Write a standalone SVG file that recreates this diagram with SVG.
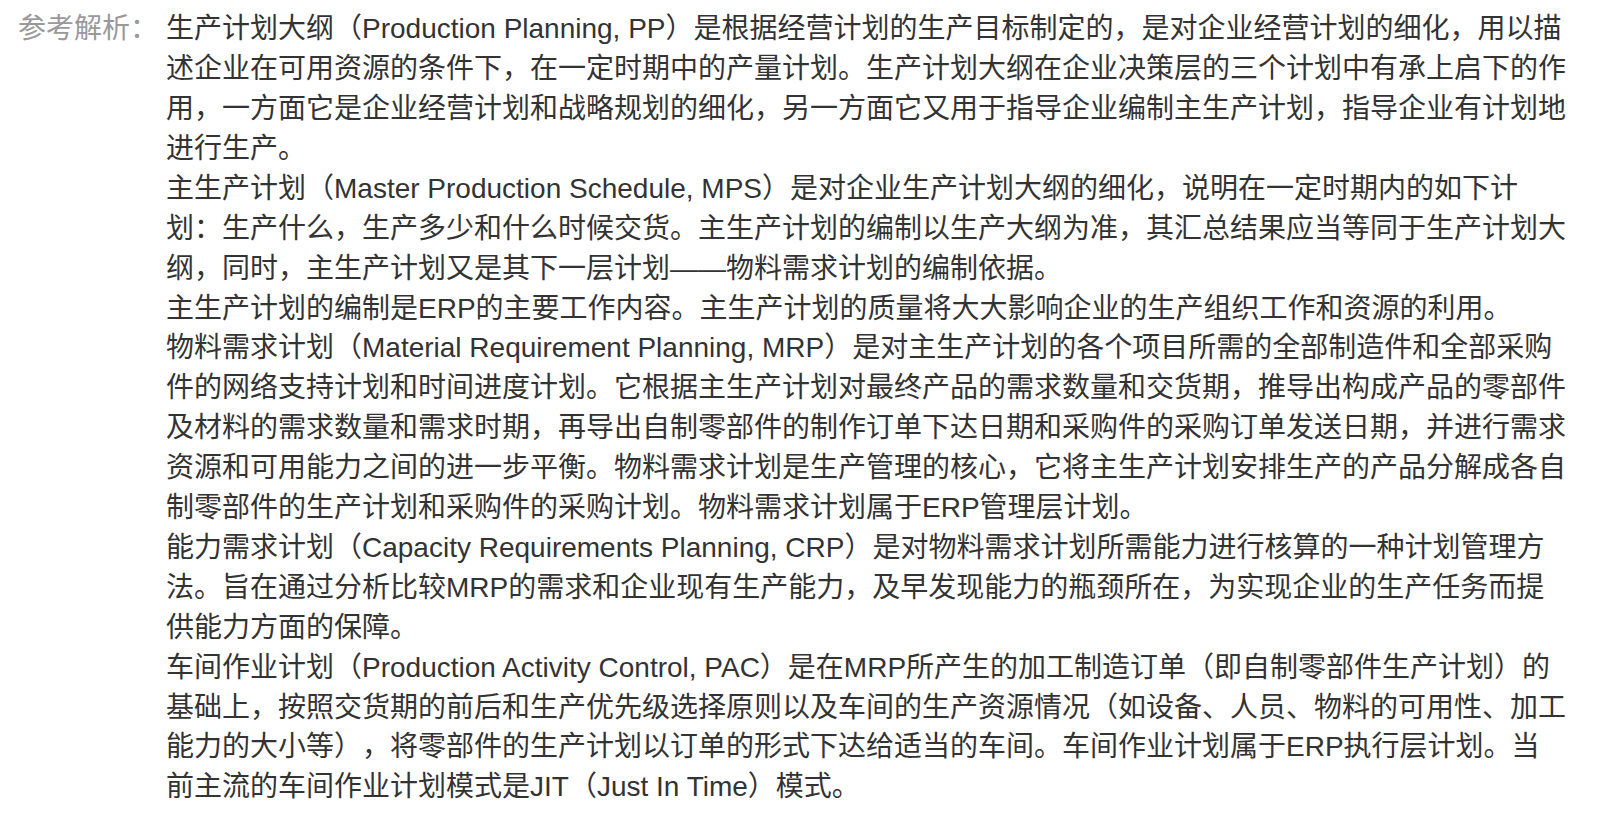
<svg xmlns="http://www.w3.org/2000/svg" width="1600" height="816" viewBox="0 0 1600 816">
<style>
text{font-family:"Liberation Sans","Noto Sans CJK SC",sans-serif;font-size:28px;fill:#333333;text-spacing-trim:space-all}
.lbl{fill:#999999}
</style>
<rect x="0" y="0" width="1600" height="816" fill="#ffffff"/>
<g id="label"><text class="lbl" x="18" y="38.2">参考解析：</text></g>
<g id="body">
<text x="166" y="38.2">生产计划大纲（Production Planning, PP）是根据经营计划的生产目标制定的，是对企业经营计划的细化，用以描</text>
<text x="166" y="78.1">述企业在可用资源的条件下，在一定时期中的产量计划。生产计划大纲在企业决策层的三个计划中有承上启下的作</text>
<text x="166" y="118">用，一方面它是企业经营计划和战略规划的细化，另一方面它又用于指导企业编制主生产计划，指导企业有计划地</text>
<text x="166" y="157.9">进行生产。</text>
<text x="166" y="197.8">主生产计划（Master Production Schedule, MPS）是对企业生产计划大纲的细化，说明在一定时期内的如下计</text>
<text x="166" y="237.7">划：生产什么，生产多少和什么时候交货。主生产计划的编制以生产大纲为准，其汇总结果应当等同于生产计划大</text>
<text x="166" y="277.6">纲，同时，主生产计划又是其下一层计划——物料需求计划的编制依据。</text>
<text x="166" y="317.5">主生产计划的编制是ERP的主要工作内容。主生产计划的质量将大大影响企业的生产组织工作和资源的利用。</text>
<text x="166" y="357.4">物料需求计划（Material Requirement Planning, MRP）是对主生产计划的各个项目所需的全部制造件和全部采购</text>
<text x="166" y="397.3">件的网络支持计划和时间进度计划。它根据主生产计划对最终产品的需求数量和交货期，推导出构成产品的零部件</text>
<text x="166" y="437.2">及材料的需求数量和需求时期，再导出自制零部件的制作订单下达日期和采购件的采购订单发送日期，并进行需求</text>
<text x="166" y="477.1">资源和可用能力之间的进一步平衡。物料需求计划是生产管理的核心，它将主生产计划安排生产的产品分解成各自</text>
<text x="166" y="517">制零部件的生产计划和采购件的采购计划。物料需求计划属于ERP管理层计划。</text>
<text x="166" y="556.9">能力需求计划（Capacity Requirements Planning, CRP）是对物料需求计划所需能力进行核算的一种计划管理方</text>
<text x="166" y="596.8">法。旨在通过分析比较MRP的需求和企业现有生产能力，及早发现能力的瓶颈所在，为实现企业的生产任务而提</text>
<text x="166" y="636.7">供能力方面的保障。</text>
<text x="166" y="676.6">车间作业计划（Production Activity Control, PAC）是在MRP所产生的加工制造订单（即自制零部件生产计划）的</text>
<text x="166" y="716.5">基础上，按照交货期的前后和生产优先级选择原则以及车间的生产资源情况（如设备、人员、物料的可用性、加工</text>
<text x="166" y="756.4">能力的大小等）<tspan x="362">，将零部件的生产计划以订单的形式下达给适当的车间。车间作业计划属于ERP执行层计划。当</tspan></text>
<text x="166" y="796.3">前主流的车间作业计划模式是JIT（Just In Time）模式。</text>
</g>
</svg>
